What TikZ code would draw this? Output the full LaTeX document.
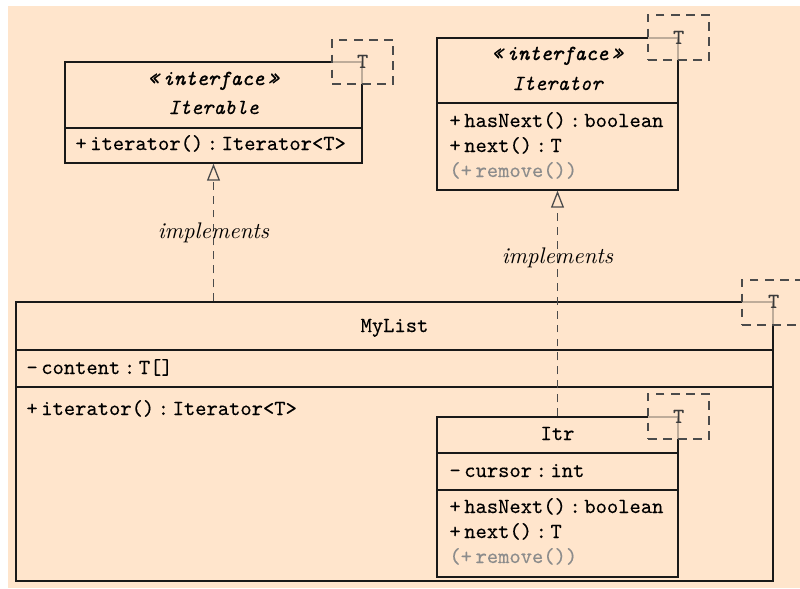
\documentclass[tikz,border=0pt]{standalone}
\usepackage{fontspec}
\usetikzlibrary{arrows.meta,fit}

% slightly heavier typewriter faces for class members and names
\newfontfamily\umlmono{lmmono10-regular.otf}[FakeBold=0.25]
\newfontfamily\umlmonoit{lmmono10-italic.otf}[FakeBold=0.3]
\newfontfamily\umlstereo{lmmono10-italic.otf}[FakeBold=1.1]

\definecolor{paper}{RGB}{255,229,204}
\definecolor{ink}{RGB}{25,25,25}
\definecolor{dimtext}{RGB}{140,140,140}
\definecolor{dashink}{RGB}{75,75,75}

\tikzset{
  classbox/.style={draw=ink, line width=0.6pt, inner sep=0pt},
  divider/.style={draw=ink, line width=0.6pt},
  stereo/.style={anchor=base, inner sep=0pt, font=\umlstereo},
  iname/.style={anchor=base, inner sep=0pt, font=\umlmonoit},
  cname/.style={anchor=base, inner sep=0pt, font=\umlmono},
  member/.style={anchor=base west, inner sep=0pt, font=\umlmono},
  optmember/.style={member, text=dimtext},
  tparam/.style={draw=dashink, line width=0.6pt, dash pattern=on 4pt off 3pt,
                 fill=paper, fill opacity=0.72, inner sep=0pt},
  tlabel/.style={inner sep=0pt, font=\umlmono, text=ink!85},
  realizes/.style={draw=dashink, line width=0.6pt, dash pattern=on 3.7pt off 2.8pt,
                   -{Triangle[open, length=7.9pt, width=6pt, line width=0.6pt]}},
  relname/.style={anchor=base, inner sep=0pt, font=\fontsize{10.5}{12}\selectfont\itshape}
}

\begin{document}
\begin{tikzpicture}[x=0.465pt, y=-0.465pt]
  \useasboundingbox (0,0) rectangle (800,588);
  \fill[paper] (8,6) rectangle (800,588);

  % ---- interface Iterable<T>
  \node[classbox, fit={(65,62) (362,163)}] (iterable) {};
  \draw[divider] (iterable.west |- 0,128) -- (iterable.east |- 0,128);
  \node[stereo] (iterableSt) at (213.5,85) {«\,interface\,»};
  \node[iname] (iterableName) at (213.5,114) {Iterable};
  \node[member] (iterableM1) at (75,150) {+\,iterator()\,:\,Iterator<T>};

  % ---- interface Iterator<T>
  \node[classbox, fit={(437,38) (678,190)}] (iterator) {};
  \draw[divider] (iterator.west |- 0,103) -- (iterator.east |- 0,103);
  \node[stereo] (iteratorSt) at (557.5,60) {«\,interface\,»};
  \node[iname] (iteratorName) at (557.5,90) {Iterator};
  \node[member] (iteratorM1) at (449,127) {+\,hasNext()\,:\,boolean};
  \node[member] (iteratorM2) at (449,152) {+\,next()\,:\,T};
  \node[optmember] (iteratorM3) at (449,177) {(+\,remove())};

  % ---- class MyList<T>
  \node[classbox, fit={(16,302) (773,581)}] (mylist) {};
  \draw[divider] (mylist.west |- 0,350) -- (mylist.east |- 0,350);
  \draw[divider] (mylist.west |- 0,387) -- (mylist.east |- 0,387);
  \node[cname] (mylistName) at (394.5,332) {MyList};
  \node[member] (mylistA1) at (26,374) {-\,content\,:\,T[]};
  \node[member] (mylistM1) at (26,415) {+\,iterator()\,:\,Iterator<T>};

  % ---- inner class Itr<T>
  \node[classbox, fit={(437,417) (678,577)}] (itr) {};
  \draw[divider] (itr.west |- 0,453) -- (itr.east |- 0,453);
  \draw[divider] (itr.west |- 0,490) -- (itr.east |- 0,490);
  \node[cname] (itrName) at (557.5,440) {Itr};
  \node[member] (itrA1) at (449,477) {-\,cursor\,:\,int};
  \node[member] (itrM1) at (449,513) {+\,hasNext()\,:\,boolean};
  \node[member] (itrM2) at (449,538) {+\,next()\,:\,T};
  \node[optmember] (itrM3) at (449,563) {(+\,remove())};

  % ---- realizations
  \coordinate (mylistTop) at (iterable.south |- mylist.north);
  \draw[realizes] (mylistTop) -- (iterable.south);
  \node[relname] (implA) at (213.5,238) {implements};
  \draw[realizes] (itr.north) -- (iterator.south);
  \node[relname] (implB) at (557.5,263) {implements};

  % ---- type parameters
  \node[tparam, fit={(332,40) (393,84)}] (iterableT) {};
  \node[tlabel] (iterableTL) at (iterable.north east) {T};
  \node[tparam, fit={(648,15) (709,60)}] (iteratorT) {};
  \node[tlabel] (iteratorTL) at (iterator.north east) {T};
  \node[tparam, fit={(742,280) (803,325)}] (mylistT) {};
  \node[tlabel] (mylistTL) at (mylist.north east) {T};
  \node[tparam, fit={(648,394) (709,439)}] (itrT) {};
  \node[tlabel] (itrTL) at (itr.north east) {T};
\end{tikzpicture}
\end{document}
